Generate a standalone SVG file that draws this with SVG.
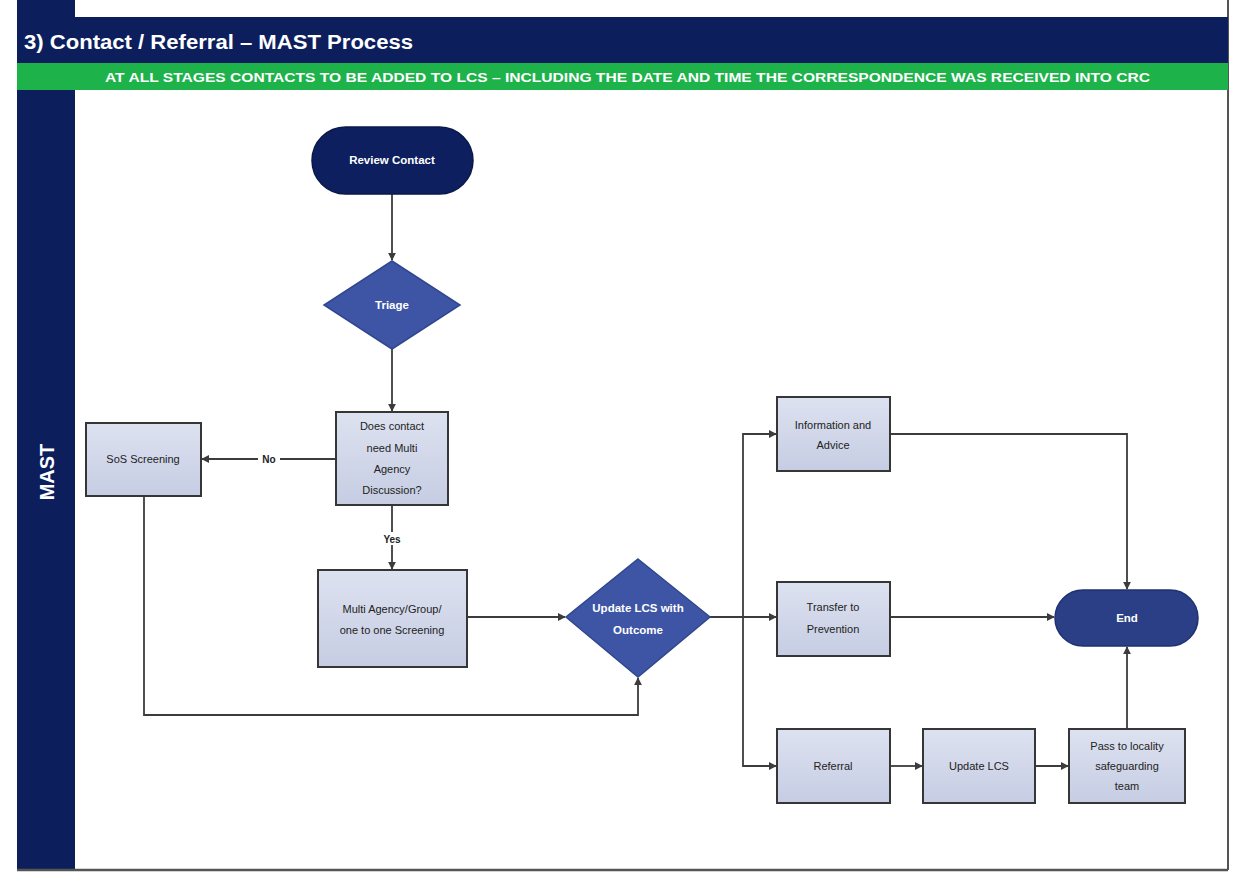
<svg xmlns="http://www.w3.org/2000/svg" width="1240" height="874" viewBox="0 0 1240 874">
  <defs>
    <linearGradient id="boxFill" x1="0" y1="0" x2="0" y2="1">
      <stop offset="0" stop-color="#dde2f0"/>
      <stop offset="1" stop-color="#c6cde3"/>
    </linearGradient>
    <marker id="arrow" viewBox="0 0 10 10" refX="9" refY="5" markerWidth="8" markerHeight="8" markerUnits="userSpaceOnUse" orient="auto">
      <path d="M0,0 L10,5 L0,10 Z" fill="#3c3c3c"/>
    </marker>
    <style>
      .box { fill: url(#boxFill); stroke: #363636; stroke-width: 2; }
      .term { fill: #0d1f5e; stroke: #0a1848; stroke-width: 1.5; }
      .term2 { fill: #2a3f85; stroke: #1f3170; stroke-width: 1.5; }
      .dia { fill: #3d55a4; stroke: #30478f; stroke-width: 1.5; }
      .lbl { font-family: "Liberation Sans", Arial, sans-serif; font-size: 11px; fill: #222; text-anchor: middle; }
      .wlbl { font-family: "Liberation Sans", Arial, sans-serif; font-size: 11.5px; font-weight: bold; fill: #ffffff; text-anchor: middle; }
      .conn { fill: none; stroke: #3c3c3c; stroke-width: 1.8; }
      .tag { font-family: "Liberation Sans", Arial, sans-serif; font-size: 10px; font-weight: bold; fill: #222; text-anchor: middle; }
    </style>
  </defs>

  <rect x="0" y="0" width="1240" height="874" fill="#ffffff"/>

  <!-- swimlane frame -->
  <g id="lane">
    <rect x="17" y="0" width="58" height="870" fill="#0c1f5c"/>
    <line x1="1228" y1="0" x2="1228" y2="870" stroke="#555" stroke-width="2"/>
    <line x1="17" y1="870" x2="1228" y2="870" stroke="#555" stroke-width="2.5"/>
    <rect x="17" y="17" width="1211" height="46" fill="#0c1f5c"/>
    <text x="24" y="49" font-family="Liberation Sans, Arial, sans-serif" font-size="20" font-weight="bold" fill="#ffffff" textLength="389" lengthAdjust="spacingAndGlyphs">3) Contact / Referral – MAST Process</text>
    <rect x="17" y="63" width="1211" height="27" fill="#1db24a"/>
    <text x="105" y="82" font-family="Liberation Sans, Arial, sans-serif" font-size="13" font-weight="bold" fill="#ffffff" textLength="1045" lengthAdjust="spacingAndGlyphs">AT ALL STAGES CONTACTS TO BE ADDED TO LCS – INCLUDING THE DATE AND TIME THE CORRESPONDENCE WAS RECEIVED INTO CRC</text>
    <text transform="translate(54,472) rotate(-90)" font-family="Liberation Sans, Arial, sans-serif" font-size="20" font-weight="bold" fill="#ffffff" text-anchor="middle">MAST</text>
  </g>

  <!-- connectors -->
  <g id="connectors">
    <path class="conn" d="M392,194 L392,260" marker-end="url(#arrow)"/>
    <path class="conn" d="M392,349 L392,411" marker-end="url(#arrow)"/>
    <path class="conn" d="M336,459 L202,459" marker-end="url(#arrow)"/>
    <rect x="258" y="451" width="22" height="15" fill="#ffffff"/>
    <text class="tag" x="269" y="463">No</text>
    <path class="conn" d="M392,505 L392,569" marker-end="url(#arrow)"/>
    <rect x="382" y="532" width="20" height="13" fill="#ffffff"/>
    <text class="tag" x="392" y="543" font-size="9">Yes</text>
    <path class="conn" d="M467,617 L565,617" marker-end="url(#arrow)"/>
    <path class="conn" d="M144,496 L144,715 L638,715 L638,678" marker-end="url(#arrow)"/>
    <path class="conn" d="M710,617 L776,617" marker-end="url(#arrow)"/>
    <path class="conn" d="M743,617 L743,434 L776,434" marker-end="url(#arrow)"/>
    <path class="conn" d="M743,617 L743,766 L776,766" marker-end="url(#arrow)"/>
    <path class="conn" d="M890,434 L1127,434 L1127,589" marker-end="url(#arrow)"/>
    <path class="conn" d="M890,617 L1054,617" marker-end="url(#arrow)"/>
    <path class="conn" d="M890,766 L922,766" marker-end="url(#arrow)"/>
    <path class="conn" d="M1035,766 L1068,766" marker-end="url(#arrow)"/>
    <path class="conn" d="M1127,729 L1127,647" marker-end="url(#arrow)"/>
  </g>

  <g id="review-contact">
    <rect class="term" x="312" y="127" width="161" height="67" rx="33.5"/>
    <text class="wlbl" x="392" y="164">Review Contact</text>
  </g>

  <g id="triage">
    <polygon class="dia" points="392,261 460,305 392,349 324,305"/>
    <text class="wlbl" x="392" y="309">Triage</text>
  </g>

  <g id="needs-mad">
    <rect class="box" x="336" y="412" width="112" height="93"/>
    <text class="lbl" x="392" y="430">Does contact</text>
    <text class="lbl" x="392" y="452">need Multi</text>
    <text class="lbl" x="392" y="473">Agency</text>
    <text class="lbl" x="392" y="494">Discussion?</text>
  </g>

  <g id="sos-screening">
    <rect class="box" x="86" y="423" width="115" height="73"/>
    <text class="lbl" x="143" y="463">SoS Screening</text>
  </g>

  <g id="multi-screening">
    <rect class="box" x="318" y="570" width="149" height="97"/>
    <text class="lbl" x="392" y="613">Multi Agency/Group/</text>
    <text class="lbl" x="392" y="634">one to one Screening</text>
  </g>

  <g id="update-outcome">
    <polygon class="dia" points="638,559 710,617 638,677 566,617"/>
    <text class="wlbl" x="638" y="612">Update LCS with</text>
    <text class="wlbl" x="638" y="634">Outcome</text>
  </g>

  <g id="info-advice">
    <rect class="box" x="777" y="397" width="113" height="74"/>
    <text class="lbl" x="833" y="429">Information and</text>
    <text class="lbl" x="833" y="449">Advice</text>
  </g>

  <g id="transfer-prevention">
    <rect class="box" x="777" y="582" width="113" height="74"/>
    <text class="lbl" x="833" y="611">Transfer to</text>
    <text class="lbl" x="833" y="633">Prevention</text>
  </g>

  <g id="referral">
    <rect class="box" x="777" y="729" width="113" height="74"/>
    <text class="lbl" x="833" y="770">Referral</text>
  </g>

  <g id="update-lcs">
    <rect class="box" x="923" y="729" width="112" height="74"/>
    <text class="lbl" x="979" y="770">Update LCS</text>
  </g>

  <g id="pass-locality">
    <rect class="box" x="1069" y="729" width="116" height="74"/>
    <text class="lbl" x="1127" y="750">Pass to locality</text>
    <text class="lbl" x="1127" y="770">safeguarding</text>
    <text class="lbl" x="1127" y="790">team</text>
  </g>

  <g id="end">
    <rect class="term2" x="1055" y="590" width="143" height="56" rx="28"/>
    <text class="wlbl" x="1127" y="622" font-size="14">End</text>
  </g>
</svg>
